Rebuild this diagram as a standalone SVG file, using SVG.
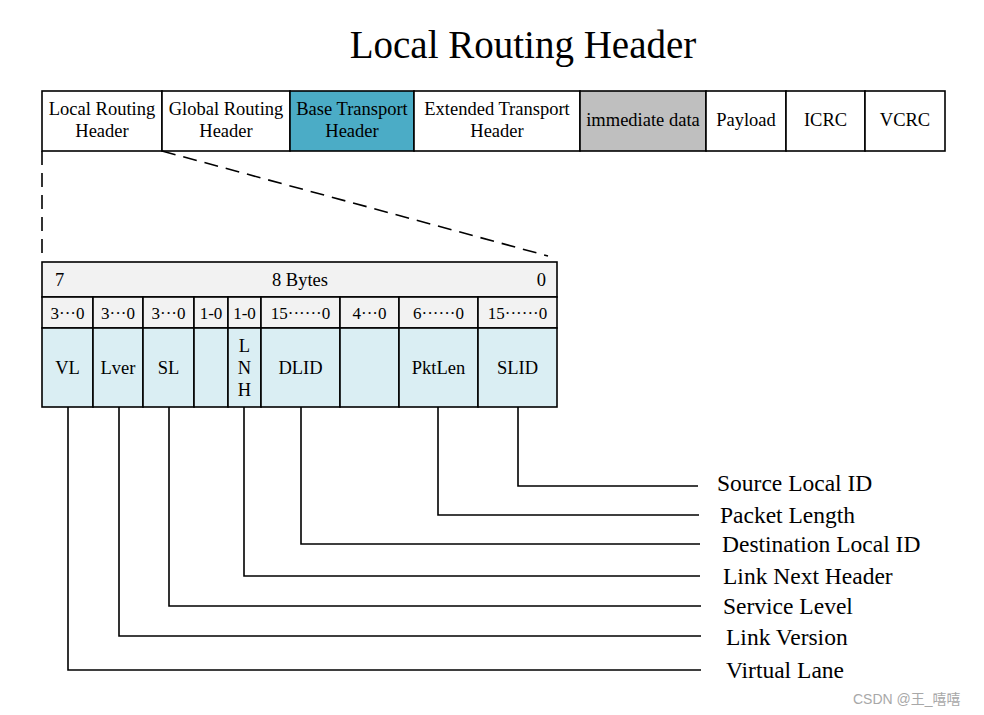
<svg xmlns="http://www.w3.org/2000/svg" width="984" height="715" viewBox="0 0 984 715">
<style>
  text { font-family: "Liberation Serif", "Times New Roman", serif; fill: #000; }
  .box { stroke: #000; stroke-width: 1.6; fill: #fff; }
  .teal { fill: #4BACC6; }
  .gray { fill: #BFBFBF; }
  .hdr { fill: #F2F2F2; }
  .fld { fill: #DAEEF3; }
  .t18 { font-size: 18.5px; text-anchor: middle; }
  .t17 { font-size: 17px; text-anchor: middle; }
  .lbl { font-size: 23.5px; }
  .conn { stroke: #000; stroke-width: 1.6; fill: none; }
  .dash { stroke: #000; stroke-width: 1.6; fill: none; stroke-dasharray: 14 8; }
</style>
<rect x="0" y="0" width="984" height="715" fill="#fff"/>
<text id="title" x="523" y="58" font-size="39" text-anchor="middle">Local Routing Header</text>

<g id="packet">
  <g id="lrh"><rect class="box" x="42" y="91" width="120" height="60"/><text class="t18" x="102" y="115">Local Routing</text><text class="t18" x="102" y="137">Header</text></g>
  <g id="grh"><rect class="box" x="162" y="91" width="128" height="60"/><text class="t18" x="226" y="115">Global Routing</text><text class="t18" x="226" y="137">Header</text></g>
  <g id="bth"><rect class="box teal" x="290" y="91" width="124" height="60"/><text class="t18" x="352" y="115">Base Transport</text><text class="t18" x="352" y="137">Header</text></g>
  <g id="eth"><rect class="box" x="414" y="91" width="166" height="60"/><text class="t18" x="497" y="115">Extended Transport</text><text class="t18" x="497" y="137">Header</text></g>
  <g id="imm"><rect class="box gray" x="580" y="91" width="126" height="60"/><text class="t18" x="643" y="126">immediate data</text></g>
  <g id="payload"><rect class="box" x="706" y="91" width="80" height="60"/><text class="t18" x="746" y="126">Payload</text></g>
  <g id="icrc"><rect class="box" x="786" y="91" width="79" height="60"/><text class="t18" x="825.5" y="126">ICRC</text></g>
  <g id="vcrc"><rect class="box" x="865" y="91" width="80" height="60"/><text class="t18" x="905" y="126">VCRC</text></g>
</g>

<g id="zoom-lines">
  <line class="dash" x1="42" y1="151" x2="42" y2="258"/>
  <line class="dash" x1="162" y1="151" x2="548" y2="256"/>
</g>

<g id="lrh-table">
  <g id="bytes-row">
    <rect class="box hdr" x="42" y="262" width="515" height="35"/>
    <text x="55" y="286" font-size="18.5">7</text>
    <text class="t18" x="300" y="286">8 Bytes</text>
    <text x="546" y="286" font-size="18.5" text-anchor="end">0</text>
  </g>
  <g id="bits-row">
    <rect class="box hdr" x="42" y="297" width="51" height="31"/><text class="t17" x="67.5" y="319">3···0</text>
    <rect class="box hdr" x="93" y="297" width="50" height="31"/><text class="t17" x="118" y="319">3···0</text>
    <rect class="box hdr" x="143" y="297" width="51" height="31"/><text class="t17" x="168.5" y="319">3···0</text>
    <rect class="box hdr" x="194" y="297" width="34" height="31"/><text class="t17" x="211" y="319">1-0</text>
    <rect class="box hdr" x="228" y="297" width="33" height="31"/><text class="t17" x="244.5" y="319">1-0</text>
    <rect class="box hdr" x="261" y="297" width="79" height="31"/><text class="t17" x="300.5" y="319">15······0</text>
    <rect class="box hdr" x="340" y="297" width="59" height="31"/><text class="t17" x="369.5" y="319">4···0</text>
    <rect class="box hdr" x="399" y="297" width="79" height="31"/><text class="t17" x="438.5" y="319">6······0</text>
    <rect class="box hdr" x="478" y="297" width="79" height="31"/><text class="t17" x="517.5" y="319">15······0</text>
  </g>
  <g id="field-vl"><rect class="box fld" x="42" y="328" width="51" height="79"/><text class="t18" x="67.5" y="374">VL</text></g>
  <g id="field-lver"><rect class="box fld" x="93" y="328" width="50" height="79"/><text class="t18" x="118" y="374">Lver</text></g>
  <g id="field-sl"><rect class="box fld" x="143" y="328" width="51" height="79"/><text class="t18" x="168.5" y="374">SL</text></g>
  <g id="field-rsv1"><rect class="box fld" x="194" y="328" width="34" height="79"/></g>
  <g id="field-lnh"><rect class="box fld" x="228" y="328" width="33" height="79"/>
    <text class="t18" x="244.5" y="352">L</text><text class="t18" x="244.5" y="374">N</text><text class="t18" x="244.5" y="396">H</text></g>
  <g id="field-dlid"><rect class="box fld" x="261" y="328" width="79" height="79"/><text class="t18" x="300.5" y="374">DLID</text></g>
  <g id="field-rsv2"><rect class="box fld" x="340" y="328" width="59" height="79"/></g>
  <g id="field-pktlen"><rect class="box fld" x="399" y="328" width="79" height="79"/><text class="t18" x="438.5" y="374">PktLen</text></g>
  <g id="field-slid"><rect class="box fld" x="478" y="328" width="79" height="79"/><text class="t18" x="517.5" y="374">SLID</text></g>
</g>

<g id="connectors">
  <polyline class="conn" points="518,407 518,486 698,486"/>
  <polyline class="conn" points="438,407 438,515 699,515"/>
  <polyline class="conn" points="301,407 301,544 700,544"/>
  <polyline class="conn" points="244,407 244,576 700,576"/>
  <polyline class="conn" points="169,407 169,606 701,606"/>
  <polyline class="conn" points="119,407 119,636 701,636"/>
  <polyline class="conn" points="68,407 68,670 701,670"/>
</g>

<g id="labels">
  <text class="lbl" x="717" y="491">Source Local ID</text>
  <text class="lbl" x="720" y="523">Packet Length</text>
  <text class="lbl" x="722" y="552">Destination Local ID</text>
  <text class="lbl" x="723" y="584">Link Next Header</text>
  <text class="lbl" x="723" y="614">Service Level</text>
  <text class="lbl" x="726" y="645">Link Version</text>
  <text class="lbl" x="726" y="678">Virtual Lane</text>
</g>

<text id="watermark" x="853" y="704" font-size="14" fill="#A0A0A0" style="font-family: 'Liberation Sans', 'Noto Sans CJK SC', sans-serif; fill: #A8A8A8;">CSDN @王_嘻嘻</text>
</svg>
